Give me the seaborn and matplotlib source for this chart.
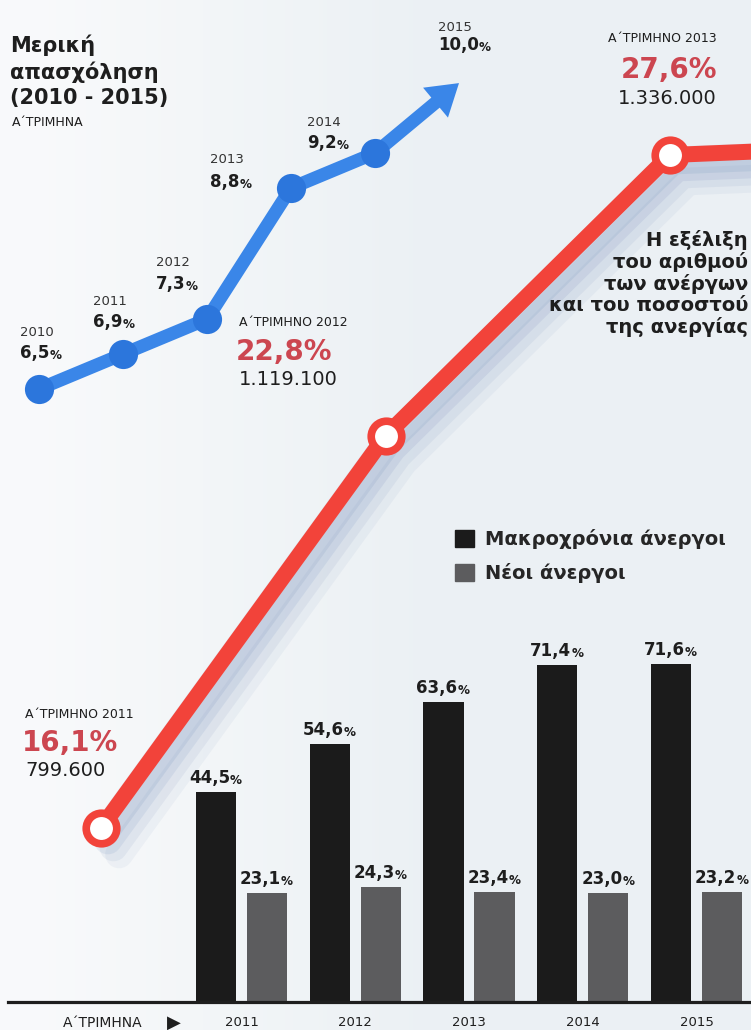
import numpy as np
import pandas as pd
import seaborn as sns
import matplotlib.pyplot as plt
from matplotlib.patches import Patch
from matplotlib import transforms

# part-time employment (Q1 of each year)
pt_years = [2010, 2011, 2012, 2013, 2014, 2015]
pt_share = [6.5, 6.9, 7.3, 8.8, 9.2, 10.0]

# unemployment rate and number of unemployed (Q1)
unemp_years = [2011, 2012, 2013, 2014]
unemp_rate = [16.1, 22.8, 27.6, 27.8]
unemp_count = ['799.600', '1.119.100', '1.336.000']

# long-term vs new unemployed (Q1)
bar_years = ['2011', '2012', '2013', '2014', '2015']
long_term = [44.5, 54.6, 63.6, 71.4, 71.6]
new_unemp = [23.1, 24.3, 23.4, 23.0, 23.2]
groups = ['Μακροχρόνια άνεργοι', 'Νέοι άνεργοι']

BLUE = '#3a86e8'
BLUE_DARK = '#2c76dc'
RED = '#f2433a'
RED_TXT = '#cc4650'
DARK = '#1e1e1e'
BLACK_BAR = '#1b1b1b'
GREY_BAR = '#5c5c5e'
PX = 0.72  # points per pixel at dpi 100

sns.set_style('white')
plt.rcParams['font.family'] = ['DejaVu Sans']

fig = plt.figure(figsize=(7.51, 10.30), dpi=100)
W, H = 751, 1030

# background: light newsprint tone, whiter on the left
ax_bg = fig.add_axes([0, 0, 1, 1])
xs = np.linspace(0, 1, 200)
shade = np.clip((xs - 0.05) / 0.5, 0, 1)
c0 = np.array([0.975, 0.98, 0.985])
c1 = np.array([0.925, 0.945, 0.958])
img = c0[None, None, :] * (1 - shade[None, :, None]) + c1[None, None, :] * shade[None, :, None]
ax_bg.imshow(img, aspect='auto', extent=[0, 1, 0, 1])
ax_bg.axis('off')


def pct_label(ax, x, y, num, dx, dy, size, color=DARK, ha='left', va='center'):
    t = ax.annotate(num, (x, y), xytext=(dx * PX, -dy * PX), textcoords='offset points',
                    ha=ha, va=va, fontsize=size, fontweight='bold', color=color,
                    annotation_clip=False)
    ax.annotate('%', (1.0, 0.0), xycoords=t, ha='left', va='bottom',
                fontsize=size * 0.72, fontweight='bold', color=color, annotation_clip=False)
    return t


# ---- bars ----
ax_bar = fig.add_axes([0, 28 / H, 1, 974 / H])
df = pd.DataFrame({
    'year': bar_years * 2,
    'value': long_term + new_unemp,
    'group': [groups[0]] * 5 + [groups[1]] * 5,
})
sns.barplot(data=df, x='year', y='value', hue='group', palette=[BLACK_BAR, GREY_BAR],
            width=0.897, gap=0.215, saturation=1, linewidth=0, legend=False, ax=ax_bar)
ax_bar.set_xlim(-241.5 / 113.75, (W - 241.5) / 113.75)
ax_bar.set_ylim(0, 974 / 4.72)
ax_bar.patch.set_alpha(0)
ax_bar.set_xlabel('')
ax_bar.set_ylabel('')
ax_bar.set_yticks([])
ax_bar.tick_params(axis='x', length=0, pad=10, labelsize=9.5, labelcolor=DARK)
sns.despine(ax=ax_bar, left=True)
ax_bar.spines['bottom'].set_bounds(-233.5 / 113.75, (W - 241.5) / 113.75)
ax_bar.spines['bottom'].set_linewidth(2.3)
ax_bar.spines['bottom'].set_color(DARK)

for bar in ax_bar.patches:
    h = bar.get_height()
    if h <= 0:
        continue
    cx = bar.get_x() + bar.get_width() / 2
    pct_label(ax_bar, cx, h, f'{h:.1f}'.replace('.', ','), -6.5, -5, 12, ha='center', va='bottom')

handles = [Patch(color=BLACK_BAR), Patch(color=GREY_BAR)]
ax_bar.legend(handles, groups, loc='upper left', bbox_to_anchor=(455 / W, 1 - 529 / H),
              bbox_transform=fig.transFigure, frameon=False, borderpad=0, borderaxespad=0,
              handlelength=1.0, handleheight=1.0, handletextpad=0.55, labelspacing=0.72,
              prop={'size': 14, 'weight': 'bold'})

fig.text(63 / W, 1 - 1023 / H, 'Α΄ΤΡΙΜΗΝΑ', fontsize=10, color=DARK, va='center')
fig.text(167 / W, 1 - 1023 / H, '▶', fontsize=13, color=DARK, va='center')

# ---- unemployment line ----
ax_red = fig.add_axes([0, 0, 1, 1])
ax_red.patch.set_alpha(0)
for dx, dy, a in [(2, -4, 0.11), (5, -9, 0.10), (9, -14, 0.08), (13, -19, 0.06)]:
    tr = transforms.offset_copy(ax_red.transData, fig=fig, x=dx, y=dy, units='points')
    ax_red.plot(unemp_years, unemp_rate, color='#4f6fa8', lw=20, alpha=a, transform=tr,
                solid_capstyle='round', zorder=1)
sns.lineplot(x=unemp_years, y=unemp_rate, ax=ax_red, color=RED, lw=11.5, marker='o',
             markevery=[0, 1, 2], ms=22, mfc='white', mec=RED, mew=5.5, zorder=3)
ax_red.set_xlim(2011 - 101 / 284.5, 2011 + (W - 101) / 284.5)
ax_red.set_ylim(16.1 - (H - 828) / 58.52, 16.1 + 828 / 58.52)
ax_red.axis('off')

red_offsets = [(-76, 'left'), (-147, 'left'), (47, 'right')]
red_dy = [(-114, -85, -58), (-113, -84, -56), (-117, -85, -57)]
for i in range(3):
    x, y = unemp_years[i], unemp_rate[i]
    dx, ha = red_offsets[i]
    d1, d2, d3 = red_dy[i]
    ax_red.annotate(f'Α΄ΤΡΙΜΗΝΟ {unemp_years[i]}', (x, y), xytext=(dx * PX, -d1 * PX),
                    textcoords='offset points', ha=ha, va='center', fontsize=9, color=DARK)
    ax_red.annotate(f'{unemp_rate[i]:.1f}%'.replace('.', ','), (x, y),
                    xytext=((dx - 3 if ha == 'left' else dx) * PX, -d2 * PX),
                    textcoords='offset points', ha=ha, va='center', fontsize=20,
                    fontweight='bold', color=RED_TXT)
    ax_red.annotate(unemp_count[i], (x, y), xytext=(dx * PX, -d3 * PX),
                    textcoords='offset points', ha=ha, va='center', fontsize=14, color=DARK)

fig.text(748 / W, 1 - 230 / H,
         'Η εξέλιξη\nτου αριθμού\nτων ανέργων\nκαι του ποσοστού\nτης ανεργίας',
         ha='right', va='top', multialignment='right', fontsize=14, fontweight='bold',
         color=DARK, linespacing=1.13)

# ---- part-time employment line ----
ax_blue = fig.add_axes([0, 0, 1, 1])
ax_blue.patch.set_alpha(0)
ax_blue.annotate('', xy=(pt_years[5], pt_share[5]), xytext=(pt_years[4], pt_share[4]),
                 arrowprops=dict(arrowstyle='simple,head_length=1.1,head_width=1.4,tail_width=0.47',
                                 mutation_scale=20, color=BLUE, lw=0, shrinkA=0, shrinkB=0),
                 zorder=1)
sns.lineplot(x=pt_years[:5], y=pt_share[:5], ax=ax_blue, color=BLUE, lw=9.5, marker='o',
             ms=21, mfc=BLUE_DARK, mec=BLUE_DARK, mew=0, zorder=2)
ax_blue.set_xlim(2010 - 39 / 84, 2010 + (W - 39) / 84)
ax_blue.set_ylim(6.5 - (H - 389) / 87.4, 6.5 + 389 / 87.4)
ax_blue.axis('off')

blue_offsets = [(-19, -56, -36), (-30, -53, -32), (-51, -57, -35),
                (-81, -28, -6), (-68, -31, -10), (-21, -56, -38)]
for i, (yr, v) in enumerate(zip(pt_years, pt_share)):
    dx, d1, d2 = blue_offsets[i]
    ax_blue.annotate(str(yr), (yr, v), xytext=(dx * PX, -d1 * PX), textcoords='offset points',
                     ha='left', va='center', fontsize=9.5, color='#333333')
    pct_label(ax_blue, yr, v, f'{v:.1f}'.replace('.', ','), dx, d2, 12)

fig.text(10 / W, 1 - 34 / H, 'Μερική\nαπασχόληση\n(2010 - 2015)', ha='left', va='top',
         fontsize=15, fontweight='bold', color=DARK, linespacing=1.33)
fig.text(12 / W, 1 - 126 / H, 'Α΄ΤΡΙΜΗΝΑ', fontsize=9, color=DARK, va='baseline')

fig.savefig('out.png', dpi=100)
